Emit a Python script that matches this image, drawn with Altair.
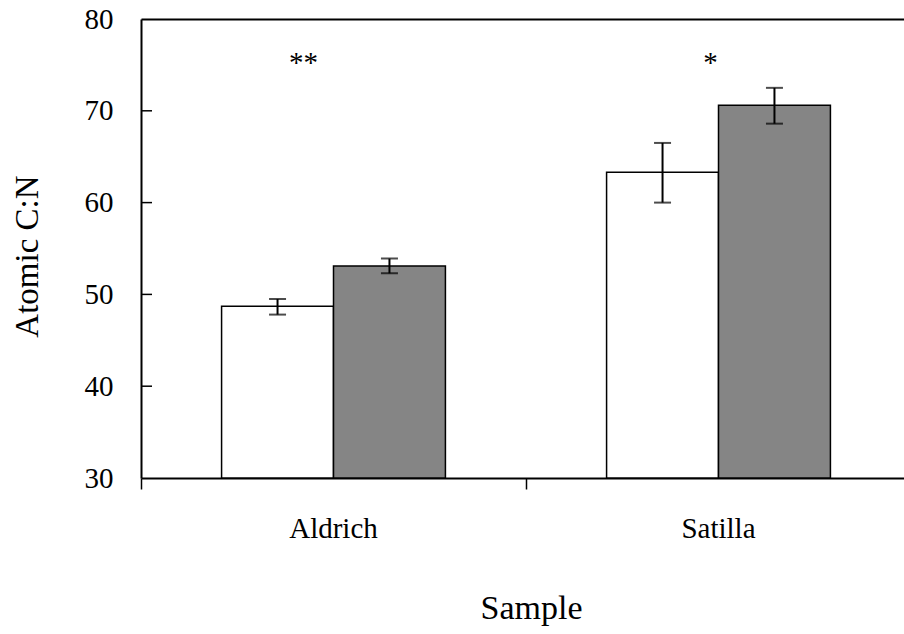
import altair as alt
import pandas as pd

samples = ["Aldrich", "Aldrich", "Satilla", "Satilla"]
groups = ["Group 1", "Group 2", "Group 1", "Group 2"]
means = [48.7, 53.1, 63.3, 70.6]
err_lo = [47.8, 52.3, 60.0, 68.6]
err_hi = [49.5, 53.9, 66.5, 72.5]
bases = [30, 30, 30, 30]

star_samples = ["Aldrich", "Satilla"]
star_text = ["**", "*"]
star_y = [74.2, 74.2]

y_ticks = [30, 40, 50, 60, 70, 80]
inner_ticks = [40, 50, 60, 70]

FONT = "Liberation Serif"

df = pd.DataFrame({"Sample": samples, "Group": groups, "Value": means,
                   "Lo": err_lo, "Hi": err_hi, "Base": bases})
stars = pd.DataFrame({"Sample": star_samples, "Star": star_text, "Y": star_y})
ticks_df = pd.DataFrame({"T": inner_ticks})

xscale = alt.Scale(domain=["Aldrich", "Satilla"], range=[0, 770],
                   paddingInner=0, paddingOuter=0)
yscale = alt.Scale(domain=[30, 80], nice=False, zero=False)
offscale = alt.Scale(domain=["Group 1", "Group 2"], paddingInner=0, paddingOuter=0.72)

bars = alt.Chart(df).mark_bar(stroke="black", strokeWidth=1.5).encode(
    x=alt.X("Sample:N", scale=xscale, sort=None,
            axis=alt.Axis(orient="bottom", bandPosition=0, grid=False,
                          tickSize=11, tickColor="black", tickWidth=1.5,
                          domainColor="black", domainWidth=2,
                          labelFont=FONT, labelFontSize=29, labelColor="black",
                          labelAngle=0, labelBaseline="alphabetic", labelPadding=48,
                          title="Sample", titleFont=FONT, titleFontSize=34,
                          titleFontWeight="normal", titleColor="black",
                          titleX=390, titleY=140, titleBaseline="alphabetic",
                          titleAlign="center")),
    xOffset=alt.XOffset("Group:N", scale=offscale),
    y=alt.Y("Value:Q", scale=yscale,
            axis=alt.Axis(orient="left", values=y_ticks, ticks=False, tickSize=0,
                          grid=False,
                          domainColor="black", domainWidth=2,
                          labelFont=FONT, labelFontSize=29, labelColor="black",
                          labelPadding=28, labelBaseline="middle",
                          title="Atomic C:N", titleFont=FONT, titleFontSize=33,
                          titleFontWeight="normal", titleColor="black",
                          titleAngle=270, titleX=-104, titleY=237,
                          titleBaseline="alphabetic", titleAlign="center")),
    y2="Base:Q",
    fill=alt.Fill("Group:N", scale=alt.Scale(domain=["Group 1", "Group 2"],
                                              range=["white", "#858585"]), legend=None),
)

rules = alt.Chart(df).mark_rule(color="black", strokeWidth=2).encode(
    x=alt.X("Sample:N", scale=xscale, sort=None,
            axis=alt.Axis(orient="top", labels=False, ticks=False, title=None,
                          grid=False, domainColor="black", domainWidth=2)),
    xOffset=alt.XOffset("Group:N", scale=offscale),
    y=alt.Y("Lo:Q", scale=yscale, axis=None),
    y2="Hi:Q",
)

caps = alt.Chart(df).transform_fold(["Lo", "Hi"], as_=["k", "v"]).mark_tick(
    color="black", size=17, thickness=2, orient="horizontal"
).encode(
    x=alt.X("Sample:N", scale=xscale, sort=None, axis=None),
    xOffset=alt.XOffset("Group:N", scale=offscale),
    y=alt.Y("v:Q", scale=yscale, axis=None),
)

# inward-pointing y-axis tick marks
inner = alt.Chart(ticks_df).mark_rule(color="black", strokeWidth=1.5).encode(
    x=alt.value(0),
    x2=alt.value(11),
    y=alt.Y("T:Q", scale=yscale, axis=None),
)

star1 = alt.Chart(stars[stars.Sample == "Aldrich"]).mark_text(
    font=FONT, fontSize=29, color="black", baseline="alphabetic", dx=-30
).encode(
    x=alt.X("Sample:N", scale=xscale, sort=None, axis=None),
    y=alt.Y("Y:Q", scale=yscale, axis=None),
    text="Star:N",
)
star2 = alt.Chart(stars[stars.Sample == "Satilla"]).mark_text(
    font=FONT, fontSize=29, color="black", baseline="alphabetic", dx=-8
).encode(
    x=alt.X("Sample:N", scale=xscale, sort=None, axis=None),
    y=alt.Y("Y:Q", scale=yscale, axis=None),
    text="Star:N",
)

chart = alt.layer(bars, rules, caps, inner, star1, star2).resolve_scale(
    x="shared", y="shared"
).resolve_axis(x="independent", y="independent").properties(
    width=763, height=459,
    autosize=alt.AutoSizeParams(type="none"),
    padding={"left": 141, "top": 19, "right": 0, "bottom": 156},
    background="white",
).configure_view(stroke=None).configure_axis(grid=False)

chart.save("out.html", embed_options={"renderer": "svg", "actions": False})
